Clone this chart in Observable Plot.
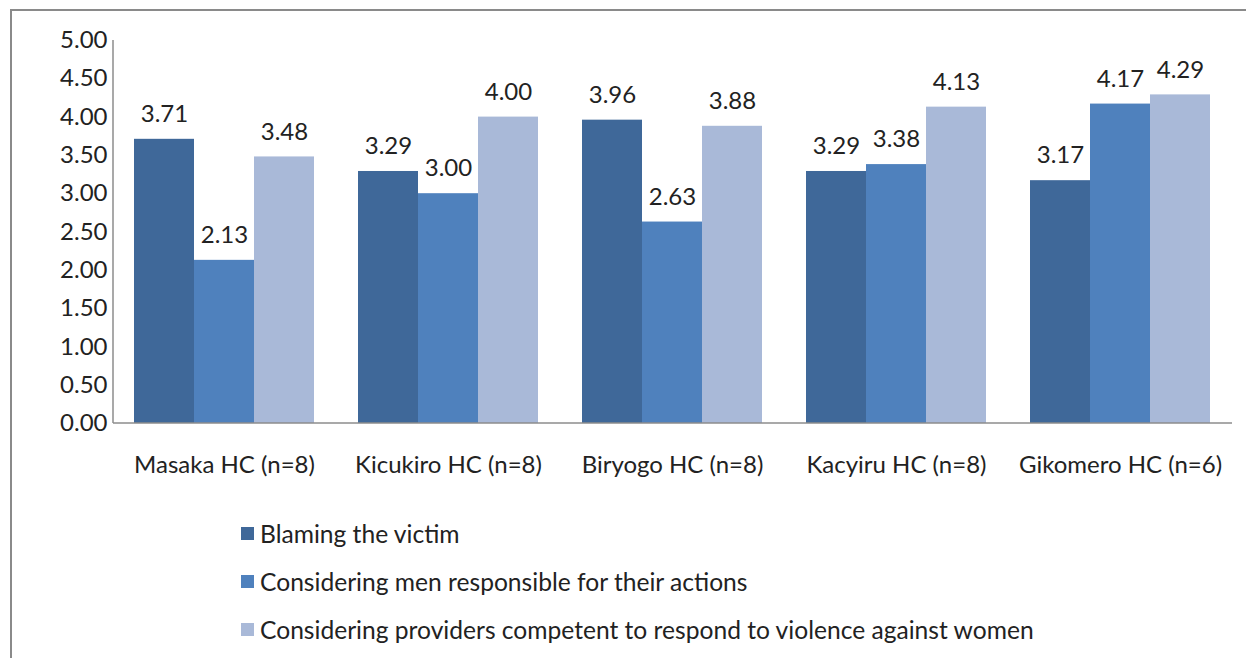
<!DOCTYPE html>
<html>
<head>
<meta charset="utf-8">
<script src="https://cdn.jsdelivr.net/npm/d3@7"></script>
<script src="https://cdn.jsdelivr.net/npm/@observablehq/plot@0.6"></script>
<style>
  html, body { margin: 0; padding: 0; background: #fff; overflow: hidden; }
  body { width: 1246px; height: 658px; position: relative; font-family: Lato, "Open Sans", sans-serif; }
  #border { position: absolute; left: 10px; top: 9px; width: 1260px; height: 680px; border: 2.5px solid #8a8a8a; box-sizing: border-box; }
  #chart { position: absolute; left: 0; top: 0; }
  #legend { position: absolute; left: 241px; top: 518px; font-size: 24.6px; color: #222; }
  .row { height: 48px; display: flex; align-items: center; margin-top: 0; }
  .row:first-child { margin-top: -9px; }
  .sw { width: 13px; height: 13px; margin-right: 6px; }
</style>
</head>
<body>
<div id="border"></div>
<div id="chart"></div>
<div id="legend"></div>
<script>
const groups = ["Masaka HC (n=8)", "Kicukiro HC (n=8)", "Biryogo HC (n=8)", "Kacyiru HC (n=8)", "Gikomero HC (n=6)"];
const series = ["Blaming the victim", "Considering men responsible for their actions", "Considering providers competent to respond to violence against women"];
const blaming = [3.71, 3.29, 3.96, 3.29, 3.17];
const menResponsible = [2.13, 3.00, 2.63, 3.38, 4.17];
const providersCompetent = [3.48, 4.00, 3.88, 4.13, 4.29];
const colors = ["#3f6899", "#4f81bd", "#a9b9d8"];
const yTicks = [0, 0.5, 1, 1.5, 2, 2.5, 3, 3.5, 4, 4.5, 5];

const valuesBySeries = [blaming, menResponsible, providersCompetent];
const data = [];
groups.forEach((g, i) => {
  series.forEach((s, j) => data.push({group: g, series: s, value: valuesBySeries[j][i]}));
});

const W = 1246, H = 500, mL = 113, mR = 14, mT = 40, mB = 77;
const chart = Plot.plot({
  width: W, height: H,
  marginLeft: mL, marginRight: mR, marginTop: mT, marginBottom: mB,
  style: {fontFamily: "Lato, 'Open Sans', sans-serif", fontSize: "24px", color: "#222", background: "transparent"},
  fx: {domain: groups, paddingInner: 0.196, paddingOuter: 0.094, label: null, axis: "bottom", tickSize: 0, tickPadding: 32},
  x: {domain: series, padding: 0, axis: null},
  y: {domain: [0, 5], ticks: yTicks, tickFormat: d => d.toFixed(2), label: null, tickSize: 0, tickPadding: 27},
  color: {domain: series, range: colors},
  marks: [
    Plot.barY(data, {fx: "group", x: "series", y: "value", fill: "series"}),
    Plot.text(data, {fx: "group", x: "series", y: "value", text: d => d.value.toFixed(2), dy: -25, fontSize: 24, fill: "#222"})
  ]
});
document.getElementById("chart").appendChild(chart);

// axis lines (left and bottom) along the plot area
const svg = d3.select(chart.tagName.toLowerCase() === "svg" ? chart : chart.querySelector("svg"));
svg.append("line").attr("x1", mL).attr("x2", mL).attr("y1", mT).attr("y2", H - mB).attr("stroke", "#8c8c8c").attr("stroke-width", 1.5);
svg.append("line").attr("x1", mL).attr("x2", W - mR).attr("y1", H - mB).attr("y2", H - mB).attr("stroke", "#8c8c8c").attr("stroke-width", 1.5);

const legend = d3.select("#legend");
series.forEach((s, j) => {
  const row = legend.append("div").attr("class", "row");
  row.append("div").attr("class", "sw").style("background", colors[j]);
  row.append("span").text(s);
});
</script>
</body>
</html>
